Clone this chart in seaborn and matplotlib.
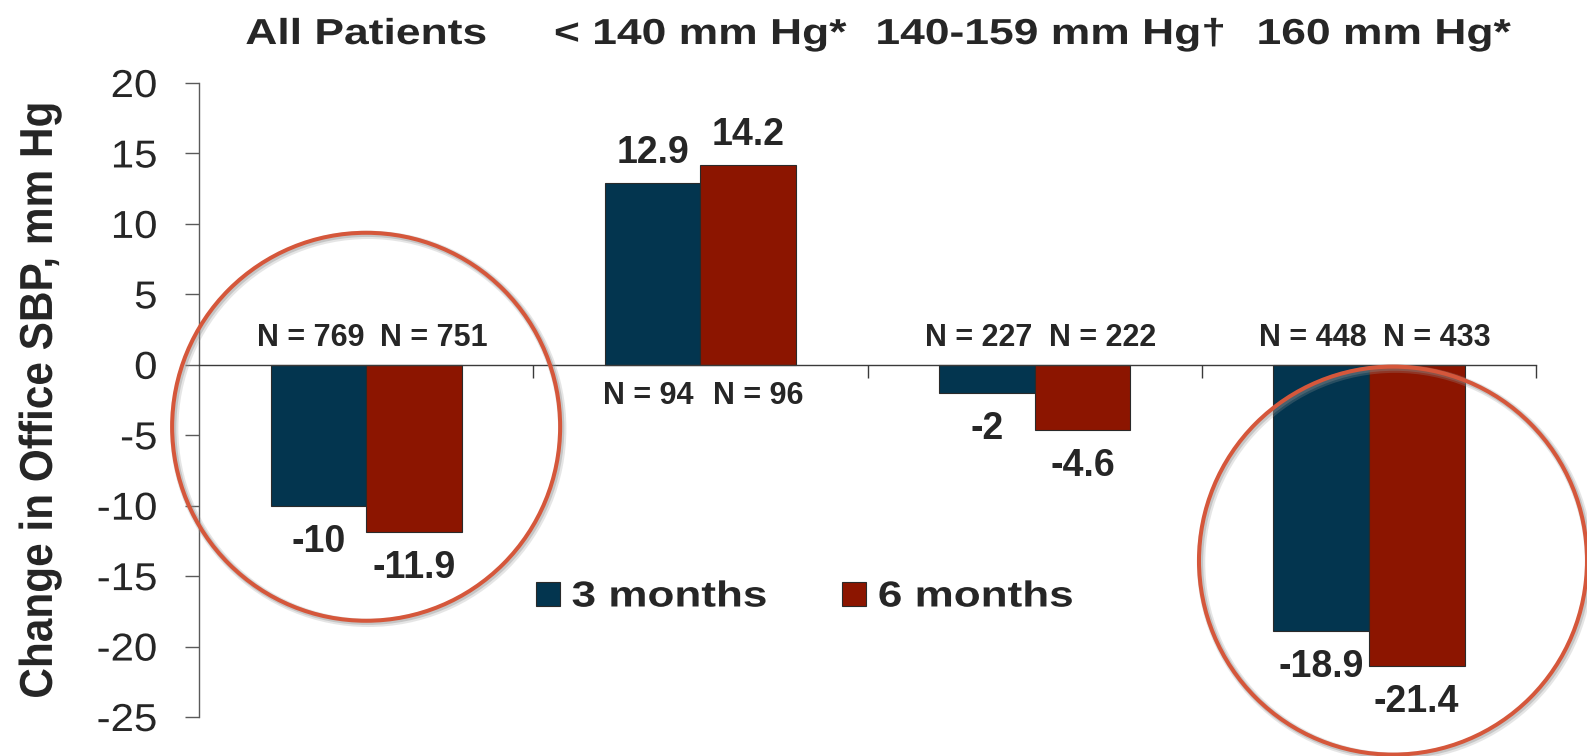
import numpy as np
import pandas as pd
import seaborn as sns
import matplotlib
matplotlib.use("Agg")
import matplotlib.pyplot as plt
from matplotlib import patheffects as pe
from matplotlib.transforms import Affine2D
from matplotlib.patches import Ellipse

# ---------------- data ----------------
categories = ["All Patients", "< 140 mm Hg*", "140-159 mm Hg\u2020", "160 mm Hg*"]
periods = ["3 months", "6 months"]
three_months = [-10, 12.9, -2, -18.9]
six_months = [-11.9, 14.2, -4.6, -21.4]
n_three = [769, 94, 227, 448]
n_six = [751, 96, 222, 433]
highlighted = ["All Patients", "160 mm Hg*"]
y_ticks = [-25, -20, -15, -10, -5, 0, 5, 10, 15, 20]
y_label = "Change in Office SBP, mm Hg"

# ---------------- style ----------------
BLUE = "#03354F"
RED = "#8C1500"
CIRCLE = "#D5573B"
PX = 72 / 100.0  # pixels -> points at dpi 100


class StretchX(pe.AbstractPathEffect):
    """Stretch a text path horizontally about an anchor."""

    def __init__(self, sx, anchor="center"):
        super().__init__()
        self.sx = sx
        self.anchor = anchor

    def draw_path(self, renderer, gc, tpath, affine, rgbFace=None):
        ext = tpath.get_extents(affine)
        if self.anchor == "left":
            cx = ext.x0
        elif self.anchor == "right":
            cx = ext.x1
        else:
            cx = 0.5 * (ext.x0 + ext.x1)
        new_aff = affine + Affine2D().translate(-cx, 0).scale(self.sx, 1).translate(cx, 0)
        renderer.draw_path(gc, tpath, new_aff, rgbFace)


sns.set_style("white")
plt.rcParams["font.family"] = ["Liberation Sans", "DejaVu Sans"]

df = pd.DataFrame({
    "Group": categories * 2,
    "Period": [periods[0]] * len(categories) + [periods[1]] * len(categories),
    "Change": three_months + six_months,
})

fig = plt.figure(figsize=(15.87, 7.56), dpi=100)
ax = fig.add_axes([0.1254, 0.0516, 0.8425, 0.8386])

sns.barplot(data=df, x="Group", y="Change", hue="Period", order=categories,
            hue_order=periods, palette=[BLUE, RED], saturation=1, width=0.572,
            errorbar=None, edgecolor="#2a2a2a", linewidth=0.8, ax=ax, zorder=2)

ax.set_xlim(-0.5, len(categories) - 0.5)
ax.set_ylim(min(y_ticks), max(y_ticks))

# axes / spines
for s in ["top", "right"]:
    ax.spines[s].set_visible(False)
ax.spines["bottom"].set_position(("data", 0))
ax.spines["bottom"].set_color("#3a3a3a")
ax.spines["bottom"].set_linewidth(1.0)
ax.spines["left"].set_color("#5a5a5a")
ax.spines["left"].set_linewidth(1.0)

ax.set_yticks(y_ticks)
ax.set_yticklabels([str(t) for t in y_ticks])
ax.tick_params(axis="y", direction="out", length=10, width=1, color="#5a5a5a",
               pad=20, labelsize=28, left=True)
ax.set_xticks([i + 0.5 for i in range(len(categories))])
ax.set_xticklabels([""] * len(categories))
ax.tick_params(axis="x", direction="out", length=9.4, width=1, color="#3a3a3a",
               bottom=True)
for lbl in ax.get_yticklabels():
    lbl.set_path_effects([StretchX(1.08, "right")])

ax.set_xlabel("")
ax.set_ylabel(y_label, fontsize=30.5, fontweight="bold")
ax.yaxis.set_label_coords(-0.104, 0.5)
ax.yaxis.label.set_path_effects([StretchX(1.09, "center")])

# group titles on top
title_dx = [0, 0, 16, 15]
for i, cat in enumerate(categories):
    t = ax.annotate(cat, xy=(i, 1), xycoords=("data", "axes fraction"),
                    xytext=(title_dx[i] * PX, 39 * PX), textcoords="offset points",
                    ha="center", va="baseline", fontsize=26, fontweight="bold",
                    annotation_clip=False)
    t.set_path_effects([StretchX(1.23, "center")])

# value labels and N labels
values = [three_months, six_months]
ns = [n_three, n_six]
n_dx = [-8, 20]
for j, cont in enumerate(ax.containers):
    for i, bar in enumerate(cont):
        v = values[j][i]
        xc = bar.get_x() + bar.get_width() / 2
        if v >= 0:
            ax.annotate(f"{v:g}", xy=(xc, v), xytext=(0, 20 * PX),
                        textcoords="offset points", ha="center", va="baseline",
                        fontsize=27, fontweight="bold", annotation_clip=False)
            ax.annotate(f"N = {ns[j][i]}", xy=(xc, 0), xytext=(n_dx[j] * PX * 0.5, -39 * PX),
                        textcoords="offset points", ha="center", va="baseline",
                        fontsize=22, fontweight="bold")
        else:
            ax.annotate(f"{v:g}", xy=(xc, v), xytext=(0, -46 * PX),
                        textcoords="offset points", ha="center", va="baseline",
                        fontsize=27, fontweight="bold", annotation_clip=False)
            ax.annotate(f"N = {ns[j][i]}", xy=(xc, 0), xytext=(n_dx[j] * PX, 19 * PX),
                        textcoords="offset points", ha="center", va="baseline",
                        fontsize=22, fontweight="bold")

# highlight circles
px_per_cat = 334.25
px_per_unit = 634 / 45.0
circle_pos = {"All Patients": (0.0, -4.4), "160 mm Hg*": (3.072, -13.9)}
radius_px = 194
for name in highlighted:
    cx, cy = circle_pos[name]
    e = Ellipse((cx, cy), width=2 * radius_px / px_per_cat, height=2 * radius_px / px_per_unit,
                fill=False, edgecolor=CIRCLE, linewidth=2.9, clip_on=False, zorder=6)
    e.set_path_effects([
        pe.SimpleLineShadow(offset=(1.5, -1.5), shadow_color="#9a9a9a", alpha=0.25, linewidth=6),
        pe.SimpleLineShadow(offset=(1.0, -1.0), shadow_color="#8a8a8a", alpha=0.35, linewidth=4),
        pe.Normal()])
    ax.add_patch(e)

# legend
handles, labels = ax.get_legend_handles_labels()
if ax.get_legend() is not None:
    ax.get_legend().remove()
leg = ax.legend(handles, labels, loc="center left", bbox_to_anchor=(536 / 1587, 1 - 597 / 756),
                bbox_transform=fig.transFigure, ncol=2, frameon=False,
                prop={"size": 26, "weight": "bold"}, handlelength=0.66, handleheight=0.66,
                handletextpad=0.33, columnspacing=3.05, borderpad=0, borderaxespad=0)
for txt in leg.get_texts():
    txt.set_path_effects([StretchX(1.22, "left")])

fig.savefig("out.png", dpi=100)
